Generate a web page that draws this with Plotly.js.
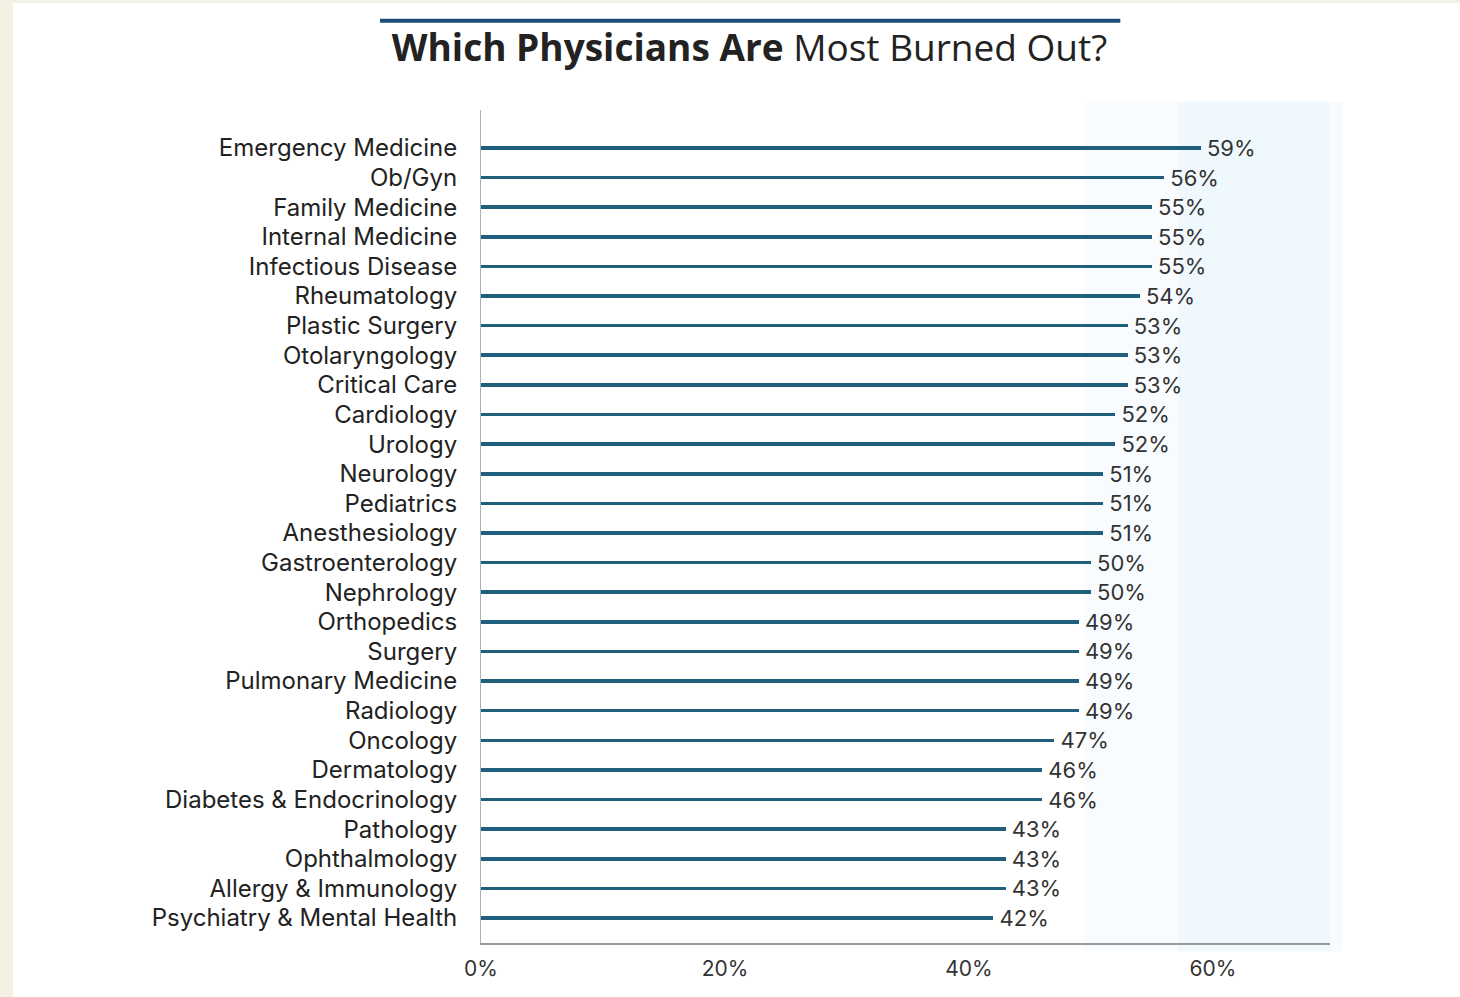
<!DOCTYPE html>
<html>
<head>
<meta charset="utf-8">
<script src="https://cdn.plot.ly/plotly-3.0.1.min.js"></script>
<style>
  html, body { margin: 0; padding: 0; background: #f3f1e3; width: 1460px; height: 997px; overflow: hidden; }
  #chart { position: absolute; left: 13px; top: 3px; width: 1447px; height: 994px; }
</style>
</head>
<body>
<div id="chart"></div>
<script>
const specialties = [
  "Emergency Medicine", "Ob/Gyn", "Family Medicine", "Internal Medicine",
  "Infectious Disease", "Rheumatology", "Plastic Surgery", "Otolaryngology",
  "Critical Care", "Cardiology", "Urology", "Neurology", "Pediatrics",
  "Anesthesiology", "Gastroenterology", "Nephrology", "Orthopedics", "Surgery",
  "Pulmonary Medicine", "Radiology", "Oncology", "Dermatology",
  "Diabetes & Endocrinology", "Pathology", "Ophthalmology",
  "Allergy & Immunology", "Psychiatry & Mental Health"
];
const burnoutPct = [59, 56, 55, 55, 55, 54, 53, 53, 53, 52, 52, 51, 51, 51, 50, 50, 49, 49, 49, 49, 47, 46, 46, 43, 43, 43, 42];
const xTickVals = [0, 20, 40, 60];
const xTickText = ["0%", "20%", "40%", "60%"];

const FONT = "Inter, Open Sans, sans-serif";
const TITLE_FONT = "Open Sans, sans-serif";

const trace = {
  type: "bar",
  orientation: "h",
  y: specialties,
  x: burnoutPct,
  width: 0.12,
  marker: { color: "#1f5f7c", line: { width: 0 } },
  text: burnoutPct.map(v => "\u00a0" + v + "%"),
  textposition: "outside",
  constraintext: "none",
  textfont: { family: FONT, size: 22, color: "#333333" },
  cliponaxis: false,
  hoverinfo: "skip"
};

const layout = {
  width: 1447,
  height: 994,
  margin: { l: 468, r: 130, t: 107, b: 54 },
  paper_bgcolor: "#ffffff",
  plot_bgcolor: "rgba(0,0,0,0)",
  showlegend: false,
  bargap: 0,
  title: {
    text: "<b>Which Physicians Are</b> Most Burned Out?",
    font: { family: TITLE_FONT, size: 37, color: "#222222" },
    x: 0.509, xanchor: "center", xref: "container",
    y: 0.955, yanchor: "middle", yref: "container"
  },
  xaxis: {
    range: [0, 69.6],
    tickvals: xTickVals,
    ticktext: xTickText,
    showgrid: false,
    zeroline: false,
    showline: true,
    linecolor: "#9a9a9a",
    linewidth: 2,
    ticks: "",
    ticklabelstandoff: 6,
    tickfont: { family: FONT, size: 21, color: "#333333" },
    fixedrange: true
  },
  yaxis: {
    type: "category",
    range: [26.844, -1.28],
    showgrid: false,
    zeroline: false,
    showline: true,
    linecolor: "#b0b0b0",
    linewidth: 1,
    ticks: "",
    ticklabelstandoff: 18,
    tickfont: { family: FONT, size: 24, color: "#222222" },
    fixedrange: true
  },
  shapes: [
    { type: "rect", xref: "paper", yref: "paper", x0: 0.71, x1: 0.822, y0: -0.01, y1: 1.01,
      fillcolor: "#f9fcfe", line: { width: 0 }, layer: "below" },
    { type: "rect", xref: "paper", yref: "paper", x0: 0.822, x1: 1.0, y0: -0.01, y1: 1.01,
      fillcolor: "#eff8fd", line: { width: 0 }, layer: "below" },
    { type: "rect", xref: "paper", yref: "paper", x0: 1.0, x1: 1.015, y0: -0.01, y1: 1.01,
      fillcolor: "#f6fbfe", line: { width: 0 }, layer: "below" },
    { type: "line", xref: "paper", yref: "paper", x0: -0.119, x1: 0.753, y0: 1.107, y1: 1.107,
      line: { color: "#1b4e78", width: 4 } }
  ]
};

Plotly.newPlot("chart", [trace], layout, { displayModeBar: false, staticPlot: true });
</script>
</body>
</html>
